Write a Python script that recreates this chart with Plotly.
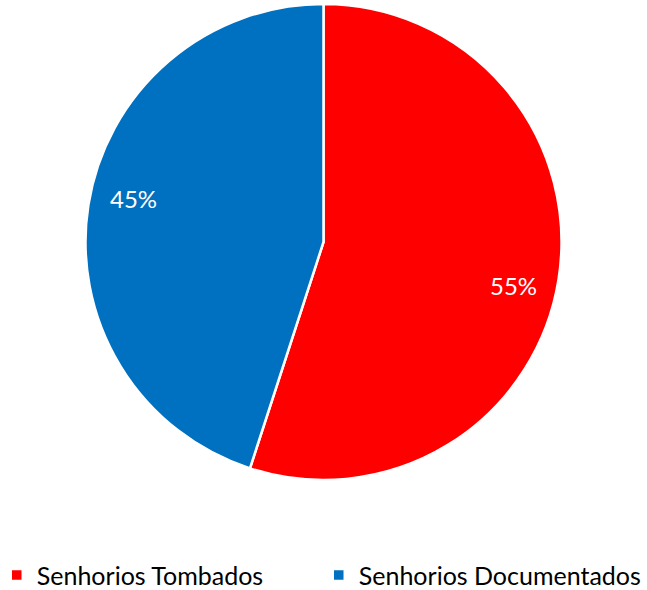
import math
import plotly.graph_objects as go

labels = ["Senhorios Tombados", "Senhorios Documentados"]
values = [55, 45]
colors = ["#FF0000", "#0070C0"]

fig = go.Figure(go.Pie(
    labels=labels,
    values=values,
    sort=False,
    direction="clockwise",
    rotation=0,
    marker=dict(colors=colors, line=dict(color="white", width=2.5)),
    textinfo="none",
    hoverinfo="label+percent",
))

# percentage labels placed near the rim, following each slice's mid-angle
radius_px = 238
label_r = 0.82
angle_offset = math.radians(4)
total = sum(values)
start = 0.0
for v in values:
    mid = (start + v / 2) / total * 2 * math.pi + angle_offset
    start += v
    fig.add_annotation(
        x=0.5, y=0.5, xref="paper", yref="paper",
        xshift=label_r * radius_px * math.sin(mid),
        yshift=label_r * radius_px * math.cos(mid),
        text=f"{v / total:.0%}", showarrow=False,
        font=dict(color="white", size=24, family="Lato"),
    )

fig.update_layout(
    width=647, height=590,
    paper_bgcolor="white",
    plot_bgcolor="white",
    font=dict(family="Lato, sans-serif", size=25, color="black"),
    margin=dict(t=4, b=110, l=0, r=0, autoexpand=False),
    showlegend=True,
    legend=dict(
        orientation="h",
        x=-0.005, xanchor="left",
        y=-0.2, yanchor="middle",
        itemwidth=30,
        entrywidth=277, entrywidthmode="pixels",
        font=dict(family="Lato", size=25),
        traceorder="normal",
    ),
)

fig.write_html("out.html", config={"displayModeBar": False},
               post_script="document.body.style.margin='0';")
